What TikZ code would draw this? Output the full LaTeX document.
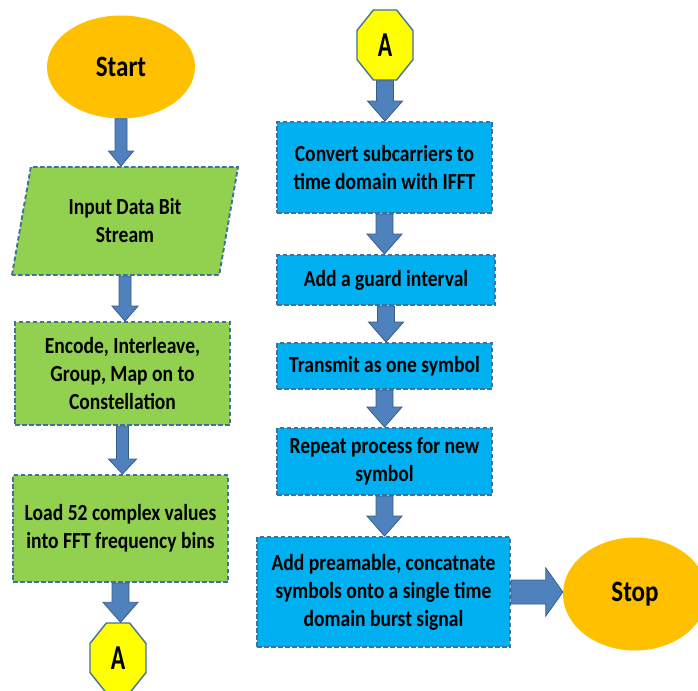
\documentclass[tikz,border=0pt]{standalone}
\usepackage{fontspec}
\setmainfont{Carlito}[FakeStretch=0.85]
\usetikzlibrary{calc,shapes.geometric}
\definecolor{boxgreen}{HTML}{92D050}
\definecolor{boxblue}{HTML}{00B0F0}
\definecolor{termorange}{HTML}{FFC000}
\definecolor{connyellow}{HTML}{FFFF00}
\definecolor{arrowfill}{HTML}{4F81BD}
\definecolor{arrowline}{HTML}{385D8A}
\definecolor{dashline}{HTML}{41719C}
\tikzset{
	txt/.style={font=\fontsize{23}{28}\selectfont\bfseries, align=center, inner sep=0pt},
	stepgreen/.style={txt, draw=dashline, line width=1.9pt, dash pattern=on 4.5pt off 2.5pt, fill=boxgreen},
	stepblue/.style={txt, draw=dashline, line width=1.9pt, dash pattern=on 4.5pt off 2.5pt, fill=boxblue},
	term/.style={ellipse, fill=termorange, inner sep=0pt, font=\fontsize{29.5}{30}\selectfont\bfseries},
	octa/.style={regular polygon, regular polygon sides=8, minimum size=75.8pt, inner sep=0pt, xscale=0.8,
		draw=dashline, line width=1.4pt, fill=connyellow, font=\fontsize{35}{35}\selectfont\bfseries},
	blockarrow/.style={draw=arrowline, line width=0.8pt, fill=arrowfill}
}
\def\blockdown[#1](#2)(#3)(#4:#5:#6){\draw[#1] let \p1=(#2.south), \p2=(#3.north) in (\x1-#4pt,\y1) -- (\x1-#4pt,\y2+#6pt) -- (\x1-#5pt,\y2+#6pt) -- (\x1,\y2) -- (\x1+#5pt,\y2+#6pt) -- (\x1+#4pt,\y2+#6pt) -- (\x1+#4pt,\y1) -- cycle;}
\def\blockright[#1](#2)(#3)(#4:#5:#6){\draw[#1] let \p1=(#2.east), \p2=(#3.west) in (\x1,\y1+#4pt) -- (\x2-#6pt,\y1+#4pt) -- (\x2-#6pt,\y1+#5pt) -- (\x2,\y1) -- (\x2-#6pt,\y1-#5pt) -- (\x2-#6pt,\y1-#4pt) -- (\x1,\y1-#4pt) -- cycle;}
\begin{document}
\begin{tikzpicture}[x=1pt, y=-1pt]
				\clip (0,0) rectangle (698,690);
				\fill[white] (0,0) rectangle (698,690);
				
				% left column
				\node[term, minimum width=148pt, minimum height=103pt] (start) at (121,67) {Start};
				\node[stepgreen, trapezium, trapezium left angle=67, trapezium right angle=113, trapezium stretches body,
					minimum width=226pt, minimum height=108pt] (input) at (125,221) {Input Data Bit\\Stream};
				\node[stepgreen, minimum width=215pt, minimum height=103pt] (encode) at (122.5,373.5) {Encode, Interleave,\\Group, Map on to\\Constellation};
				\node[stepgreen, minimum width=215pt, minimum height=107pt] (load) at (120.5,528.5) {Load 52 complex values\\into FFT frequency bins};
				\node[octa] (conB) at (118,658) {A};
				
				% right column
				\node[octa] (conA) at (385,45) {A};
				\node[stepblue, minimum width=215pt, minimum height=91pt] (ifft) at (384.5,167.5) {Convert subcarriers to\\time domain with IFFT};
				\node[stepblue, minimum width=218pt, minimum height=50pt] (guard) at (386,280) {Add a guard interval};
				\node[stepblue, minimum width=215pt, minimum height=46pt] (transmit) at (384.5,366) {Transmit as one symbol};
				\node[stepblue, minimum width=215pt, minimum height=67pt] (repeat) at (384.5,461.5) {Repeat process for new\\symbol};
				\node[stepblue, minimum width=253pt, minimum height=110pt] (burst) at (383.5,592) {Add preamable, concatnate\\symbols onto a single time\\domain burst signal};
				\node[term, minimum width=144pt, minimum height=113pt] (stop) at (635,594) {Stop};
				
				% arrows
				\blockdown[blockarrow](start)(input)(6:12.5:15)
				\blockdown[blockarrow](input)(encode)(6:13:15)
				\blockdown[blockarrow](encode)(load)(6:14:15)
				\blockdown[blockarrow](load)(conB)(8.5:17.5:20)
				\blockdown[blockarrow](conA)(ifft)(8.5:17.5:20)
				\blockdown[blockarrow](ifft)(guard)(8.5:17.5:20)
				\blockdown[blockarrow](guard)(transmit)(8.5:17.5:20)
				\blockdown[blockarrow](transmit)(repeat)(8.5:17.5:20)
				\blockdown[blockarrow](repeat)(burst)(8.5:17.5:20)
				\blockright[blockarrow](burst)(stop)(12:24:17)
			\end{tikzpicture}
\end{document}
